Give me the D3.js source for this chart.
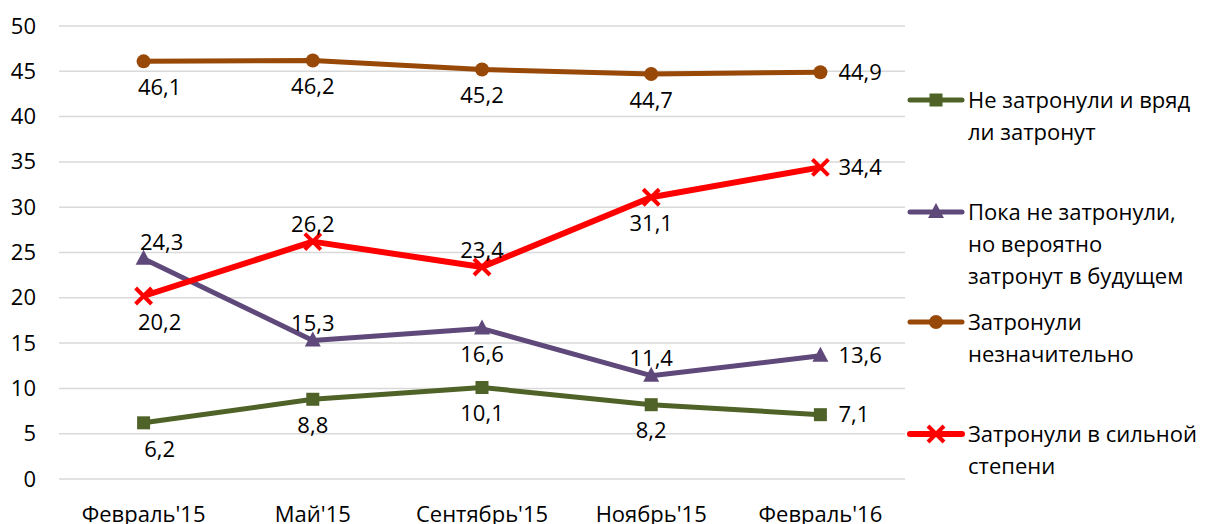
<!DOCTYPE html>
<html><head><meta charset="utf-8">
<script src="https://cdn.jsdelivr.net/npm/d3@7"></script>
<style>
html,body{margin:0;padding:0;background:#fff;}
svg text{font-family:"Open Sans",sans-serif;fill:#000;}
</style></head>
<body>
<svg id="chart" width="1208" height="524"></svg>
<script>
const categories = ["Февраль'15","Май'15","Сентябрь'15","Ноябрь'15","Февраль'16"];
const yTicks = [0,5,10,15,20,25,30,35,40,45,50];
const seriesNames = ["Не затронули и вряд ли затронут","Пока не затронули, но вероятно затронут в будущем","Затронули незначительно","Затронули в сильной степени"];
const legendLines = [["Не затронули и вряд","ли затронут"],["Пока не затронули,","но вероятно","затронут в будущем"],["Затронули","незначительно"],["Затронули в сильной","степени"]];
const notAffected = [6.2,8.8,10.1,8.2,7.1];
const notYet = [24.3,15.3,16.6,11.4,13.6];
const slightly = [46.1,46.2,45.2,44.7,44.9];
const strongly = [20.2,26.2,23.4,31.1,34.4];
// label placement: b = below, a = above, r = right
const placeNotAffected = ["b","b","b","b","r"];
const placeNotYet = ["a","a","b","a","r"];
const placeSlightly = ["b","b","b","b","r"];
const placeStrongly = ["b","a","a","b","r"];

const colors = ["#4F6228","#5F497A","#984807","#FF0000"];
const markers = ["square","triangle","circle","x"];

const svg = d3.select("#chart");
const pLeft = 59, pRight = 905, pTop = 26, pBottom = 479;
const x = d3.scaleBand().domain(categories).range([pLeft,pRight]);
const y = d3.scaleLinear().domain([0,50]).range([pBottom,pTop]);
const fs = 22;

// gridlines
svg.append("g").selectAll("line").data(yTicks).join("line")
  .attr("x1",pLeft).attr("x2",pRight)
  .attr("y1",d=>y(d)).attr("y2",d=>y(d))
  .attr("stroke","#D9D9D9").attr("stroke-width",1.5);

// y axis labels
const yAxis = d3.axisLeft(y).tickValues(yTicks).tickSize(0).tickPadding(0).tickFormat(d3.format("d"));
const gy = svg.append("g").attr("transform",`translate(36,0)`).call(yAxis);
gy.select(".domain").remove();
gy.selectAll("text").style("font-size",fs+"px").style("font-family","Open Sans").attr("fill","#000");

// x axis labels
const xAxis = d3.axisBottom(x).tickSize(0).tickPadding(0);
const gx = svg.append("g").attr("transform",`translate(0,${pBottom+27})`).call(xAxis);
gx.select(".domain").remove();
gx.selectAll("text").style("font-size",fs+"px").style("font-family","Open Sans").attr("fill","#000");

const cx = c => x(c) + x.bandwidth()/2;
const data = [notAffected,notYet,slightly,strongly];
const places = [placeNotAffected,placeNotYet,placeSlightly,placeStrongly];

function drawMarker(g, type, px, py, color){
  if(type==="square"){
    g.append("rect").attr("x",px-6.5).attr("y",py-6.5).attr("width",13).attr("height",13).attr("fill",color);
  } else if(type==="circle"){
    g.append("circle").attr("cx",px).attr("cy",py).attr("r",7).attr("fill",color);
  } else if(type==="triangle"){
    g.append("path").attr("d",`M${px},${py-9}L${px+8},${py+6}L${px-8},${py+6}Z`).attr("fill",color);
  } else if(type==="x"){
    g.append("path").attr("d",`M${px-8},${py-8}L${px+8},${py+8}M${px-8},${py+8}L${px+8},${py-8}`)
      .attr("stroke",color).attr("stroke-width",4).attr("fill","none");
  }
}

const line = d3.line().x((d,i)=>cx(categories[i])).y(d=>y(d));
data.forEach((vals,si)=>{
  const g = svg.append("g");
  g.append("path").datum(vals).attr("d",line).attr("fill","none")
    .attr("stroke",colors[si]).attr("stroke-width",si===3?6:5).attr("stroke-linejoin","round");
  vals.forEach((v,i)=>drawMarker(g,markers[si],cx(categories[i]),y(v),colors[si]));
});

// data labels
const fmt = v => d3.format(".1f")(v).replace(".",",");
data.forEach((vals,si)=>{
  vals.forEach((v,i)=>{
    const p = places[si][i];
    let px = cx(categories[i]), py = y(v), anchor = "middle";
    if(p==="b"){ py += 26; if(i===0) px += 16; }
    else if(p==="a"){ py -= 17; if(i===0) px += 18; }
    else { px += 18; anchor = "start"; }
    svg.append("text").attr("x",px).attr("y",py).attr("dy","0.35em")
      .attr("text-anchor",anchor).style("font-size",fs+"px").text(fmt(v));
  });
});

// legend
const legY = [100,212,322,434];
legendLines.forEach((lines,si)=>{
  const g = svg.append("g");
  const ly = legY[si];
  g.append("line").attr("x1",910).attr("x2",962).attr("y1",ly).attr("y2",ly)
    .attr("stroke",colors[si]).attr("stroke-width",si===3?6:5).attr("stroke-linecap","round");
  drawMarker(g,markers[si],936,ly,colors[si]);
  lines.forEach((t,k)=>{
    g.append("text").attr("x",968).attr("y",ly+k*32).attr("dy","0.35em")
      .style("font-size",fs+"px").text(t);
  });
});
</script>
</body></html>
